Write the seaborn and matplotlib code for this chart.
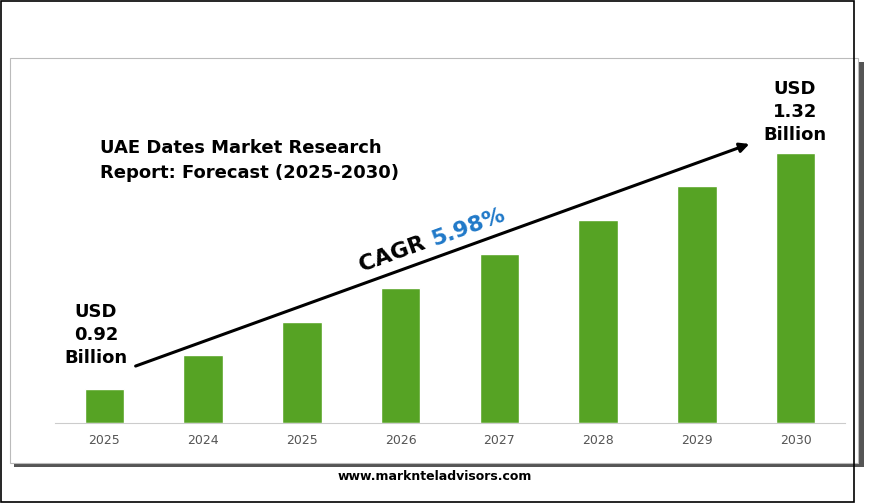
import matplotlib
matplotlib.use("Agg")
import matplotlib.pyplot as plt
from matplotlib.patches import Rectangle
import seaborn as sns

sns.set_style("white")
plt.rcParams['font.family'] = ['DejaVu Sans']
plt.rcParams['text.color'] = 'black'

years = ["2025", "2024", "2025", "2026", "2027", "2028", "2029", "2030"]
heights = [34, 68, 101, 135, 169, 203, 237, 270]

W, H = 870, 503
fig = plt.figure(figsize=(8.7, 5.03), dpi=100)

def fx(x): return x / W
def fy(y): return 1 - y / H

# outer frame and panel with shadow
fig.patches.append(Rectangle((fx(1), fy(502)), fx(853), 501 / H, transform=fig.transFigure,
                             fill=False, edgecolor="black", lw=1.2))
fig.patches.append(Rectangle((fx(14), fy(467)), fx(850), 405 / H, transform=fig.transFigure,
                             facecolor="#555555", edgecolor="none", zorder=0))
fig.patches.append(Rectangle((fx(10), fy(463)), fx(848), 405 / H, transform=fig.transFigure,
                             facecolor="white", edgecolor="#bbbbbb", lw=0.8, zorder=0.5))

ax = fig.add_axes([fx(55), fy(423), fx(790), 363 / H], zorder=2)
ax.patch.set_alpha(0)
sns.barplot(x=list(range(len(years))), y=heights, color="#56a324", width=0.4,
            saturation=1, ax=ax)
ax.set_xlim(-0.5, 7.5)
ax.set_ylim(0, 363)
ax.set_xticks(range(len(years)))
ax.set_xticklabels(years, fontsize=9, color="#555555")
ax.set_yticks([])
ax.set_xlabel(""); ax.set_ylabel("")
for s in ["top", "right", "left"]:
    ax.spines[s].set_visible(False)
ax.spines["bottom"].set_color("#cccccc")
ax.tick_params(axis="x", length=0, pad=8)

ax2 = fig.add_axes([0, 0, 1, 1], zorder=3)
ax2.patch.set_alpha(0)
ax2.set_xlim(0, W); ax2.set_ylim(H, 0); ax2.axis("off")
ax2.text(100, 148, "UAE Dates Market Research", fontsize=13, fontweight="bold", va="center")
ax2.text(100, 173, "Report: Forecast (2025-2030)", fontsize=13, fontweight="bold", va="center")
ax2.text(96, 335, "USD\n0.92\nBillion", fontsize=13, fontweight="bold",
         ha="center", va="center", linespacing=1.35)
ax2.text(795, 112, "USD\n1.32\nBillion", fontsize=13, fontweight="bold",
         ha="center", va="center", linespacing=1.35)
ax2.annotate("", xy=(752, 143), xytext=(133, 367),
             arrowprops=dict(arrowstyle="-|>", color="black", lw=2.2, mutation_scale=14))
ax2.text(362, 272, "CAGR ", fontsize=16, fontweight="bold", rotation=20, rotation_mode="anchor")
ax2.text(434, 246, "5.98%", fontsize=16, fontweight="bold", color="#1f78c8",
         rotation=20, rotation_mode="anchor")
ax2.text(435, 476, "www.marknteladvisors.com", fontsize=9, fontweight="bold",
         ha="center", va="center")

fig.savefig("out.png", dpi=100)
